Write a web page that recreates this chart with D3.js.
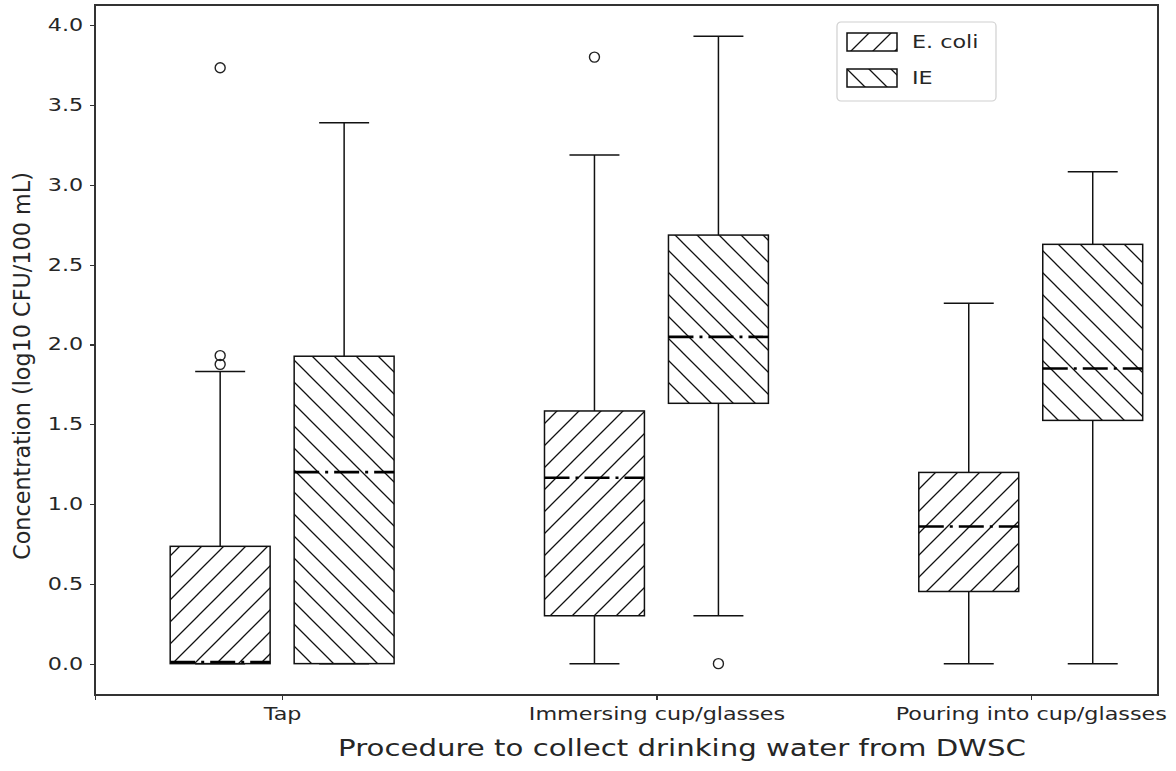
<!DOCTYPE html>
<html lang="en">
<head>
  <script src="https://d3js.org/d3.v7.min.js"></script>
  <style>
    body {
      margin: 0;
      background: white;
    }

    text {
      font-family: "DejaVu Sans", sans-serif;
      fill: #262626;
    }

    .axis line {
      stroke: #333;
      stroke-width: 1.2;
      shape-rendering: crispEdges;
    }
  </style>
</head>
<body>
<div id="chart"></div>
<script>
  // procedures and series
  var groups = ["Tap", "Immersing cup/glasses", "Pouring into cup/glasses"];
  var series = ["E. coli", "IE"];

  // E. coli box statistics (log10 CFU/100 mL)
  var ecoliLow = [0, 0, 0];
  var ecoliQ1 = [0, 0.30, 0.452];
  var ecoliMedian = [0.01, 1.165, 0.859];
  var ecoliQ3 = [0.735, 1.583, 1.198];
  var ecoliHigh = [1.83, 3.187, 2.258];
  var ecoliOutliers = [[3.733, 1.93, 1.875], [3.80], []];

  // IE box statistics
  var ieLow = [0, 0.30, 0];
  var ieQ1 = [0, 1.631, 1.524];
  var ieMedian = [1.20, 2.047, 1.849];
  var ieQ3 = [1.926, 2.685, 2.627];
  var ieHigh = [3.388, 3.93, 3.082];
  var ieOutliers = [[], [0], []];

  var yTicks = [0, 0.5, 1, 1.5, 2, 2.5, 3, 3.5, 4];

  var SX = 1.31;   // horizontal stretch of the glyphs

  var W = 1176, H = 771;
  var m = {left: 95, right: 1158, top: 5, bottom: 695};

  var svg = d3.select("#chart").append("svg")
          .attr("width", W)
          .attr("height", H);

  var x = d3.scaleLinear().domain([0.5, 3.34]).range([m.left, m.right]);
  var y = d3.scaleLinear().domain([-0.1965, 4.1265]).range([m.bottom, m.top]);

  var offset = 0.1656, half = 0.1335;

  // hatch patterns
  var defs = svg.append("defs");
  var hs = 22;
  var fwd = defs.append("pattern")
          .attr("id", "hatchF")
          .attr("patternUnits", "userSpaceOnUse")
          .attr("width", hs).attr("height", hs);
  fwd.append("path")
          .attr("d", "M0," + hs + "L" + hs + ",0M-2,2L2,-2M" + (hs - 2) + "," + (hs + 2) + "L" + (hs + 2) + "," + (hs - 2))
          .attr("stroke", "#111").attr("stroke-width", 1.3);
  var bwd = defs.append("pattern")
          .attr("id", "hatchB")
          .attr("patternUnits", "userSpaceOnUse")
          .attr("width", hs).attr("height", hs);
  bwd.append("path")
          .attr("d", "M0,0L" + hs + "," + hs + "M-2," + (hs - 2) + "L2," + (hs + 2) + "M" + (hs - 2) + ",-2L" + (hs + 2) + ",2")
          .attr("stroke", "#111").attr("stroke-width", 1.3);

  var boxData = [];
  groups.forEach(function (g, i) {
    boxData.push({pos: i + 1 - offset, low: ecoliLow[i], q1: ecoliQ1[i], med: ecoliMedian[i], q3: ecoliQ3[i], high: ecoliHigh[i], out: ecoliOutliers[i], hatch: "hatchF"});
    boxData.push({pos: i + 1 + offset, low: ieLow[i], q1: ieQ1[i], med: ieMedian[i], q3: ieQ3[i], high: ieHigh[i], out: ieOutliers[i], hatch: "hatchB"});
  });

  var boxes = svg.selectAll(".box")
          .data(boxData).enter()
          .append("g")
          .attr("class", "box");

  // whiskers
  boxes.append("line")
          .attr("x1", function (d) { return x(d.pos); })
          .attr("x2", function (d) { return x(d.pos); })
          .attr("y1", function (d) { return y(d.q3); })
          .attr("y2", function (d) { return y(d.high); })
          .attr("stroke", "#111").attr("stroke-width", 1.5);
  boxes.append("line")
          .attr("x1", function (d) { return x(d.pos); })
          .attr("x2", function (d) { return x(d.pos); })
          .attr("y1", function (d) { return y(d.q1); })
          .attr("y2", function (d) { return y(d.low); })
          .attr("stroke", "#111").attr("stroke-width", 1.5);
  // caps
  ["high", "low"].forEach(function (k) {
    boxes.append("line")
            .attr("x1", function (d) { return x(d.pos - half / 2); })
            .attr("x2", function (d) { return x(d.pos + half / 2); })
            .attr("y1", function (d) { return y(d[k]); })
            .attr("y2", function (d) { return y(d[k]); })
            .attr("stroke", "#111").attr("stroke-width", 1.5);
  });

  // boxes
  boxes.append("rect")
          .attr("x", function (d) { return x(d.pos - half); })
          .attr("width", function (d) { return x(d.pos + half) - x(d.pos - half); })
          .attr("y", function (d) { return y(d.q3); })
          .attr("height", function (d) { return y(d.q1) - y(d.q3); })
          .attr("fill", function (d) { return "url(#" + d.hatch + ")"; })
          .attr("stroke", "#111").attr("stroke-width", 1.5);

  // medians
  boxes.append("line")
          .attr("x1", function (d) { return x(d.pos - half); })
          .attr("x2", function (d) { return x(d.pos + half); })
          .attr("y1", function (d) { return y(d.med); })
          .attr("y2", function (d) { return y(d.med); })
          .attr("stroke", "#000").attr("stroke-width", 2.6)
          .attr("stroke-dasharray", "25,6,3,6");

  // outliers
  boxes.selectAll(".flier")
          .data(function (d) { return d.out.map(function (v) { return {pos: d.pos, v: v}; }); })
          .enter().append("circle")
          .attr("class", "flier")
          .attr("cx", function (d) { return x(d.pos); })
          .attr("cy", function (d) { return y(d.v); })
          .attr("r", 5)
          .attr("fill", "none")
          .attr("stroke", "#222").attr("stroke-width", 1.4);

  // axes
  var yAxis = svg.append("g")
          .attr("class", "axis")
          .attr("transform", "translate(" + m.left + ",0)")
          .call(d3.axisLeft(y).tickValues(yTicks).tickFormat(d3.format(".1f")).tickSize(5).tickPadding(4));
  yAxis.selectAll("text")
          .style("font-size", "17px")
          .attr("transform", "scale(" + SX + ",1)");

  var xAxis = svg.append("g")
          .attr("class", "axis")
          .attr("transform", "translate(0," + m.bottom + ")")
          .call(d3.axisBottom(x).tickValues([0.5, 1, 2, 3])
                  .tickFormat(function (d) { return d === 0.5 ? "" : groups[d - 1]; })
                  .tickSize(5).tickPadding(8));
  xAxis.selectAll("text")
          .style("font-size", "17px")
          .attr("transform", "scale(" + SX + ",1)");
  xAxis.selectAll(".domain").remove();
  yAxis.selectAll(".domain").remove();

  // frame
  svg.append("rect")
          .attr("x", m.left).attr("y", m.top)
          .attr("width", m.right - m.left).attr("height", m.bottom - m.top)
          .attr("fill", "none")
          .attr("stroke", "#333").attr("stroke-width", 1.2)
          .style("shape-rendering", "crispEdges");

  // axis labels
  svg.append("text")
          .attr("transform", "translate(682,756) scale(" + SX + ",1)")
          .attr("text-anchor", "middle")
          .style("font-size", "22.3px")
          .text("Procedure to collect drinking water from DWSC");

  svg.append("text")
          .attr("transform", "translate(30,366) rotate(-90)")
          .attr("text-anchor", "middle")
          .style("font-size", "22.3px")
          .text("Concentration (log10 CFU/100 mL)");

  // legend
  var legend = svg.append("g").attr("transform", "translate(837,22)");
  legend.append("rect")
          .attr("width", 159).attr("height", 79)
          .attr("rx", 4)
          .attr("fill", "white").attr("fill-opacity", 0.8)
          .attr("stroke", "#d0d0d0").attr("stroke-width", 1.2);
  var items = legend.selectAll(".item")
          .data(series).enter()
          .append("g")
          .attr("transform", function (d, i) { return "translate(10," + (11 + i * 36) + ")"; });
  items.append("rect")
          .attr("width", 50).attr("height", 18)
          .attr("fill", function (d, i) { return i === 0 ? "url(#hatchF)" : "url(#hatchB)"; })
          .attr("stroke", "#111").attr("stroke-width", 1.5);
  items.append("text")
          .attr("transform", "translate(65,15) scale(" + SX + ",1)")
          .style("font-size", "17px")
          .text(function (d) { return d; });
</script>
</body>
</html>
